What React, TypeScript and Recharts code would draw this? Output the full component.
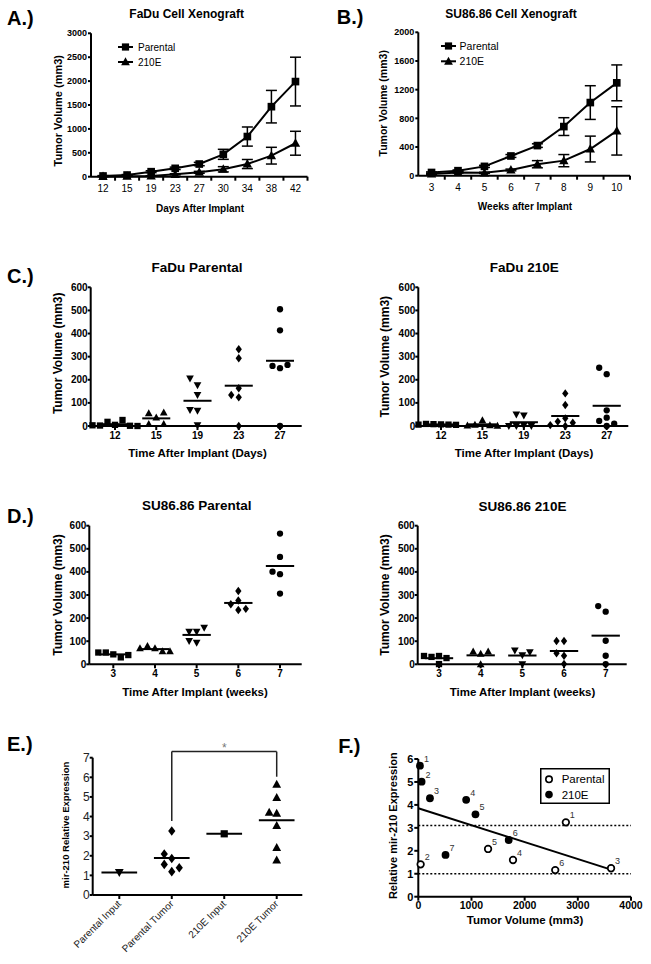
import React from 'react';
import {
  LineChart, Line, XAxis, YAxis, ErrorBar, Legend,
  ScatterChart, Scatter, ReferenceLine,
} from 'recharts';

const FONT = '"Liberation Sans", Arial, Helvetica, sans-serif';

// ================= DATA =================
// A: FaDu cell xenograft (mean ± SEM)
const faduDays = ['12', '15', '19', '23', '27', '30', '34', '38', '42'];
const faduParentalMean = [15, 35, 105, 175, 265, 468, 840, 1465, 1990];
const faduParentalSem = [8, 10, 20, 25, 35, 105, 200, 340, 510];
const fadu210EMean = [5, 10, 15, 50, 92, 155, 265, 440, 700];
const fadu210ESem = [3, 4, 6, 12, 20, 55, 95, 175, 250];

// B: SU86.86 cell xenograft (mean ± SEM)
const suWeeks = ['3', '4', '5', '6', '7', '8', '9', '10'];
const suParentalMean = [45, 70, 130, 275, 420, 685, 1020, 1295];
const suParentalSem = [8, 10, 15, 20, 25, 124, 235, 250];
const su210EMean = [24, 45, 40, 80, 160, 210, 372, 625];
const su210ESem = [5, 8, 8, 12, 50, 85, 180, 337];

// C: FaDu individual tumours
const faduScatterDays = ['12', '15', '19', '23', '27'];
const faduParentalTumors = [
  [5, 18, 26, 2, 1, 3, 0],
  [36, 55, 58, 8, 8],
  [177, 206, 134, 66, 69, 3],
  [332, 293, 163, 124, 134, 0],
  [505, 414, 250, 260, 264, 0],
];
const fadu210ETumors = [
  [7, 8, 6, 9, 5, 6],
  [25, 5, 3, 2, 1],
  [46, 50, 2, 0, 0, 0],
  [141, 91, 0, 19, 33, 14, 4],
  [224, 252, 68, 0, 36, 22, 10],
];

// D: SU86.86 individual tumours
const suScatterWeeks = ['3', '4', '5', '6', '7'];
const suParentalTumors = [
  [43, 51, 30, 51, 40],
  [69, 79, 56, 69, 56],
  [141, 141, 159, 94, 101],
  [317, 276, 260, 235, 240],
  [566, 465, 390, 401, 306],
];
const su210ETumors = [
  [36, 32, 27, 36, 1],
  [45, 55, 55, 0],
  [39, 60, 52, 1],
  [101, 101, 37, 48, 1],
  [228, 252, 102, 37, 1],
];

// E: mir-210 relative expression
const exprGroups = ['Parental Input', 'Parental Tumor', '210E Input', '210E Tumor'];
const exprValues = [
  [1.15],
  [3.26, 1.86, 2.09, 1.19, 1.56, 1.39],
  [3.12],
  [5.64, 4.96, 4.16, 4.21, 3.53, 2.41, 1.78],
];
const sigFrom = 1;
const sigTo = 3;
const sigTop = 7.31;
const sigLeftEnd = 3.77;
const sigRightEnd = 6.03;

// F: expression vs tumour volume
const parentalVolume = [2775, 44, 3625, 1781, 1312, 2575];
const parentalExpr = [3.24, 1.41, 1.24, 1.6, 2.08, 1.16];
const parentalIds = ['1', '2', '3', '4', '5', '6'];
const e210Volume = [31, 62, 219, 900, 1075, 1700, 512];
const e210Expr = [5.71, 5.01, 4.29, 4.22, 3.59, 2.47, 1.82];
const e210Ids = ['1', '2', '3', '4', '5', '6', '7'];
const inputLevels = [3.1, 1.0];

// ================= LAYOUT / STYLE =================
type Frame = {
  x: number; y: number; w: number; h: number;
  L: number; T: number; R: number; B: number; xh: number;
  first?: number; last?: number;
};

const FR_A: Frame = { x: 0, y: 0, w: 320, h: 200, L: 91, T: 33.3, R: 307.5, B: 176.7, xh: 20 };
const FR_B: Frame = { x: 320, y: 0, w: 331, h: 200, L: 418.3, T: 32.3, R: 630, B: 175.7, xh: 20 };
const FR_C1: Frame = { x: 0, y: 240, w: 320, h: 215, L: 90.7, T: 287.3, R: 301.7, B: 426, xh: 20, first: 115, last: 280 };
const FR_C2: Frame = { x: 330, y: 240, w: 321, h: 215, L: 418.3, T: 287.3, R: 628.3, B: 426, xh: 20, first: 441, last: 606.7 };
const FR_D1: Frame = { x: 0, y: 480, w: 320, h: 205, L: 89.3, T: 525.7, R: 301.7, B: 664.3, xh: 20, first: 113.3, last: 280 };
const FR_D2: Frame = { x: 330, y: 480, w: 321, h: 205, L: 417.7, T: 525.7, R: 626.7, B: 664.3, xh: 20, first: 439, last: 605.7 };
const FR_E: Frame = { x: 0, y: 730, w: 320, h: 234, L: 92.7, T: 757.7, R: 302.3, B: 895, xh: 65, first: 119.3, last: 276.7 };
const FR_F: Frame = { x: 330, y: 730, w: 321, h: 234, L: 418.3, T: 759, R: 631, B: 896.7, xh: 20 };

const dotShapes = ['square', 'triangle', 'invTriangle', 'diamond', 'circle'];
const exprShapes = ['invTriangle', 'diamond', 'square', 'triangle'];
const SWARM_STEP = 7.5; // px
const SWARM_THR = 7; // px
const MEAN_HALF = 0.34; // category units

const AXIS = { stroke: '#000', strokeWidth: 2 };

function dims(f: Frame) {
  return {
    margin: { top: f.T - f.y, right: f.x + f.w - f.R, bottom: f.y + f.h - f.B - f.xh, left: 0 },
    yWidth: f.L - f.x,
  };
}

function mean(a: number[]) {
  return a.reduce((s, v) => s + v, 0) / a.length;
}

function range(a: number, b: number, step: number) {
  const out: number[] = [];
  for (let v = a; v <= b + 1e-9; v += step) out.push(Math.round(v * 1000) / 1000);
  return out;
}

// simple slot-based beeswarm (like GraphPad's scatter dot plot)
function swarm(vals: number[], pxPerUnit: number) {
  const order = [0, -1, 1, -2, 2, -3, 3, -4, 4];
  const placed: { slot: number; v: number }[] = [];
  return vals.map((v) => {
    let slot = 0;
    for (const s of order) {
      const clash = placed.some((p) => p.slot === s && Math.abs(p.v - v) * pxPerUnit < SWARM_THR);
      if (!clash) { slot = s; break; }
    }
    placed.push({ slot, v });
    return { slot, v };
  });
}

function Marker({ kind, cx, cy, s = 7 }: any) {
  if (cx == null || cy == null) return null;
  switch (kind) {
    case 'square': {
      const q = s * 0.9;
      return <rect x={cx - q / 2} y={cy - q / 2} width={q} height={q} fill="#000" />;
    }
    case 'triangle':
      return (
        <polygon
          points={`${cx},${cy - 0.58 * s} ${cx + 0.55 * s},${cy + 0.42 * s} ${cx - 0.55 * s},${cy + 0.42 * s}`}
          fill="#000"
        />
      );
    case 'invTriangle':
      return (
        <polygon
          points={`${cx},${cy + 0.58 * s} ${cx + 0.55 * s},${cy - 0.42 * s} ${cx - 0.55 * s},${cy - 0.42 * s}`}
          fill="#000"
        />
      );
    case 'diamond':
      return (
        <polygon
          points={`${cx},${cy - 0.6 * s} ${cx + 0.45 * s},${cy} ${cx},${cy + 0.6 * s} ${cx - 0.45 * s},${cy}`}
          fill="#000"
        />
      );
    default:
      return <circle cx={cx} cy={cy} r={s * 0.45} fill="#000" />;
  }
}

// ================= GROWTH CURVES (A, B) =================
const legendKinds: Record<string, string> = { Parental: 'square', '210E': 'triangle' };
const legendOrder = ['Parental', '210E'];

function LineLegend({ payload, fontSize, rowGap, textX }: any) {
  const names = legendOrder.filter((n) => (payload || []).some((p: any) => p.value === n));
  return (
    <svg width={80} height={34} style={{ display: 'block' }}>
      {names.map((name, i) => {
        const y = 8 + i * rowGap;
        return (
          <g key={name}>
            <line x1={1} x2={16} y1={y} y2={y} stroke="#000" strokeWidth={2} />
            <Marker kind={legendKinds[name]} cx={8.5} cy={y} s={8} />
            <text x={textX} y={y} dy="0.35em" fontSize={fontSize} fill="#000" fontFamily={FONT}>
              {name}
            </text>
          </g>
        );
      })}
    </svg>
  );
}

function GrowthChart({ frame, labels, parMean, parSem, eMean, eSem, yMax, yStep, legend }: any) {
  const { margin, yWidth } = dims(frame);
  const n = labels.length;
  const rows = labels.map((l: string, i: number) => ({
    i, day: l, par: parMean[i], parErr: parSem[i], e: eMean[i], eErr: eSem[i],
  }));
  const half = (frame.R - frame.L) / n / 2;
  const axisY = frame.B - frame.y;
  const renderTick = (p: any) => {
    const { x, y, payload } = p;
    return (
      <g>
        <line x1={x + half} x2={x + half} y1={axisY} y2={axisY + 4} stroke="#000" strokeWidth={2} />
        <text x={x} y={y} dy="0.71em" textAnchor="middle" fontSize={10} fill="#000" fontFamily={FONT}>
          {labels[payload.value]}
        </text>
      </g>
    );
  };
  return (
    <div style={{ position: 'absolute', left: frame.x, top: frame.y }}>
      <LineChart width={frame.w} height={frame.h} margin={margin} data={rows}>
        <XAxis
          type="number"
          dataKey="i"
          domain={[-0.5, n - 0.5]}
          ticks={rows.map((r: any) => r.i)}
          interval={0}
          height={frame.xh}
          axisLine={AXIS}
          tickLine={false}
          tickSize={4}
          tickMargin={4}
          tick={renderTick}
        />
        <YAxis
          type="number"
          domain={[0, yMax]}
          ticks={range(0, yMax, yStep)}
          interval={0}
          width={yWidth}
          axisLine={AXIS}
          tickLine={AXIS}
          tickSize={3}
          tickMargin={1}
          tick={{ fontSize: 9, fontWeight: 'bold', fill: '#000', fontFamily: FONT }}
        />
        <Line
          dataKey="par"
          name="Parental"
          type="linear"
          stroke="#000"
          strokeWidth={2}
          isAnimationActive={false}
          activeDot={false}
          dot={(p: any) => <Marker key={`p${p.index}`} kind="square" cx={p.cx} cy={p.cy} s={8.5} />}
        >
          <ErrorBar dataKey="parErr" width={5.5} strokeWidth={1.5} stroke="#000" direction="y" />
        </Line>
        <Line
          dataKey="e"
          name="210E"
          type="linear"
          stroke="#000"
          strokeWidth={2}
          isAnimationActive={false}
          activeDot={false}
          dot={(p: any) => <Marker key={`e${p.index}`} kind="triangle" cx={p.cx} cy={p.cy} s={8.5} />}
        >
          <ErrorBar dataKey="eErr" width={5.5} strokeWidth={1.5} stroke="#000" direction="y" />
        </Line>
        <Legend
          layout="vertical"
          align="center"
          verticalAlign="middle"
          wrapperStyle={{ left: legend.left, top: legend.top, width: 80, height: 34 }}
          content={(props: any) => (
            <LineLegend payload={props.payload} fontSize={legend.fontSize} rowGap={legend.rowGap} textX={legend.textX} />
          )}
        />
      </LineChart>
    </div>
  );
}

// ================= DOT PLOTS (C, D) =================
function DotPlot({ frame, cats, groups, yMax }: any) {
  const { margin, yWidth } = dims(frame);
  const n = cats.length;
  const sp = (frame.last - frame.first) / (n - 1);
  const dom = [-(frame.first - frame.L) / sp, n - 1 + (frame.R - frame.last) / sp];
  const pxPerUnit = (frame.B - frame.T) / yMax;
  const series = groups.map((vals: number[], i: number) =>
    swarm(vals, pxPerUnit).map((p) => ({ x: i + (p.slot * SWARM_STEP) / sp, y: p.v }))
  );
  return (
    <div style={{ position: 'absolute', left: frame.x, top: frame.y }}>
      <ScatterChart width={frame.w} height={frame.h} margin={margin}>
        <XAxis
          type="number"
          dataKey="x"
          domain={dom}
          ticks={cats.map((_: string, i: number) => i)}
          interval={0}
          tickFormatter={(v: number) => cats[Math.round(v)]}
          height={frame.xh}
          axisLine={AXIS}
          tickLine={AXIS}
          tickSize={4}
          tickMargin={2}
          tick={{ fontSize: 10, fontWeight: 'bold', fill: '#000', fontFamily: FONT }}
        />
        <YAxis
          type="number"
          dataKey="y"
          domain={[0, yMax]}
          ticks={range(0, yMax, 100)}
          interval={0}
          width={yWidth}
          axisLine={AXIS}
          tickLine={AXIS}
          tickSize={3}
          tickMargin={0}
          tick={{ fontSize: 10, fontWeight: 'bold', fill: '#000', fontFamily: FONT }}
        />
        {groups.map((vals: number[], i: number) => (
          <ReferenceLine
            key={`m${i}`}
            segment={[{ x: i - MEAN_HALF, y: mean(vals) }, { x: i + MEAN_HALF, y: mean(vals) }]}
            stroke="#000"
            strokeWidth={2}
          />
        ))}
        {series.map((d: any[], i: number) => (
          <Scatter
            key={`s${i}`}
            data={d}
            isAnimationActive={false}
            shape={(p: any) => <Marker kind={dotShapes[i]} cx={p.cx} cy={p.cy} s={7} />}
          />
        ))}
      </ScatterChart>
    </div>
  );
}

// ================= E =================
function ExprPanel() {
  const f = FR_E;
  const { margin, yWidth } = dims(f);
  const n = exprGroups.length;
  const sp = (f.last! - f.first!) / (n - 1);
  const dom = [-(f.first! - f.L) / sp, n - 1 + (f.R - f.last!) / sp];
  const pxPerUnit = (f.B - f.T) / 7;
  const series = exprValues.map((vals, i) =>
    swarm(vals, pxPerUnit).map((p) => ({ x: i + (p.slot * SWARM_STEP) / sp, y: p.v }))
  );
  const renderTick = (p: any) => {
    const { x, y, payload } = p;
    return (
      <text
        x={x}
        y={y}
        dy="0.35em"
        transform={`rotate(-45 ${x} ${y})`}
        textAnchor="end"
        fontSize={10}
        fill="#222"
        fontFamily={FONT}
      >
        {exprGroups[Math.round(payload.value)]}
      </text>
    );
  };
  const bracket = { stroke: '#222', strokeWidth: 1.5, ifOverflow: 'visible' as const };
  return (
    <div style={{ position: 'absolute', left: f.x, top: f.y }}>
      <ScatterChart width={f.w} height={f.h} margin={margin}>
        <XAxis
          type="number"
          dataKey="x"
          domain={dom}
          ticks={exprGroups.map((_, i) => i)}
          interval={0}
          height={f.xh}
          axisLine={AXIS}
          tickLine={AXIS}
          tickSize={4}
          tickMargin={3}
          tick={renderTick}
        />
        <YAxis
          type="number"
          dataKey="y"
          domain={[0, 7]}
          ticks={range(0, 7, 1)}
          interval={0}
          width={yWidth}
          axisLine={AXIS}
          tickLine={AXIS}
          tickSize={3}
          tickMargin={0}
          tick={{ fontSize: 12, fill: '#222', fontFamily: FONT }}
        />
        {exprValues.map((vals, i) => (
          <ReferenceLine
            key={`m${i}`}
            segment={[{ x: i - MEAN_HALF, y: mean(vals) }, { x: i + MEAN_HALF, y: mean(vals) }]}
            stroke="#000"
            strokeWidth={2}
          />
        ))}
        <ReferenceLine segment={[{ x: sigFrom, y: sigLeftEnd }, { x: sigFrom, y: sigTop }]} {...bracket} />
        <ReferenceLine
          segment={[{ x: sigFrom, y: sigTop }, { x: sigTo, y: sigTop }]}
          {...bracket}
          label={{ value: '*', position: 'top', fill: '#777', fontSize: 12, offset: 0, fontFamily: FONT }}
        />
        <ReferenceLine segment={[{ x: sigTo, y: sigTop }, { x: sigTo, y: sigRightEnd }]} {...bracket} />
        {series.map((d, i) => (
          <Scatter
            key={`s${i}`}
            data={d}
            isAnimationActive={false}
            shape={(p: any) => <Marker kind={exprShapes[i]} cx={p.cx} cy={p.cy} s={8} />}
          />
        ))}
      </ScatterChart>
    </div>
  );
}

// ================= F =================
function FLegend() {
  return (
    <svg width={70} height={36} style={{ display: 'block' }}>
      <rect x={0.75} y={0.75} width={68.5} height={34.5} fill="#fff" stroke="#000" strokeWidth={1.5} />
      <circle cx={9} cy={11.3} r={3.2} fill="#fff" stroke="#000" strokeWidth={1.6} />
      <text x={21.7} y={11.3} dy="0.35em" fontSize={11.5} fill="#000" fontFamily={FONT}>Parental</text>
      <circle cx={9} cy={26.6} r={3.8} fill="#000" />
      <text x={21.7} y={26.6} dy="0.35em" fontSize={11.5} fill="#000" fontFamily={FONT}>210E</text>
    </svg>
  );
}

function FPanel() {
  const f = FR_F;
  const { margin, yWidth } = dims(f);
  const parData = parentalVolume.map((x, i) => ({ x, y: parentalExpr[i], id: parentalIds[i] }));
  const eData = e210Volume.map((x, i) => ({ x, y: e210Expr[i], id: e210Ids[i] }));
  const allX = [...parentalVolume, ...e210Volume];
  const allY = [...parentalExpr, ...e210Expr];
  const mx = mean(allX);
  const my = mean(allY);
  let sxy = 0;
  let sxx = 0;
  allX.forEach((x, i) => {
    sxy += (x - mx) * (allY[i] - my);
    sxx += (x - mx) * (x - mx);
  });
  const slope = sxy / sxx;
  const icpt = my - slope * mx;
  const xMax = Math.max(...allX);
  const label = (p: any) => (
    <text x={p.cx + 4} y={p.cy - 4} fontSize={9} fill="#333" fontFamily={FONT}>{p.payload.id}</text>
  );
  return (
    <div style={{ position: 'absolute', left: f.x, top: f.y }}>
      <ScatterChart width={f.w} height={f.h} margin={margin}>
        <XAxis
          type="number"
          dataKey="x"
          domain={[0, 4000]}
          ticks={range(0, 4000, 1000)}
          interval={0}
          height={f.xh}
          axisLine={AXIS}
          tickLine={AXIS}
          tickSize={4}
          tickMargin={1}
          tick={{ fontSize: 10.5, fontWeight: 'bold', fill: '#000', fontFamily: FONT }}
        />
        <YAxis
          type="number"
          dataKey="y"
          domain={[0, 6]}
          ticks={range(0, 6, 1)}
          interval={0}
          width={yWidth}
          axisLine={AXIS}
          tickLine={AXIS}
          tickSize={4}
          tickMargin={1}
          tick={{ fontSize: 11, fontWeight: 'bold', fill: '#000', fontFamily: FONT }}
        />
        {inputLevels.map((v) => (
          <ReferenceLine key={`lvl${v}`} y={v} stroke="#000" strokeWidth={1.5} strokeDasharray="2 2" />
        ))}
        <ReferenceLine
          segment={[{ x: 0, y: icpt }, { x: xMax, y: icpt + slope * xMax }]}
          stroke="#000"
          strokeWidth={2}
        />
        <Scatter
          name="Parental"
          data={parData}
          isAnimationActive={false}
          shape={(p: any) => (
            <g>
              <circle cx={p.cx} cy={p.cy} r={3.3} fill="#fff" stroke="#000" strokeWidth={1.7} />
              {label(p)}
            </g>
          )}
        />
        <Scatter
          name="210E"
          data={eData}
          isAnimationActive={false}
          shape={(p: any) => (
            <g>
              <circle cx={p.cx} cy={p.cy} r={3.9} fill="#000" />
              {label(p)}
            </g>
          )}
        />
        <Legend
          layout="vertical"
          align="center"
          verticalAlign="middle"
          wrapperStyle={{ left: 210, top: 37.7, width: 70, height: 36 }}
          content={() => <FLegend />}
        />
      </ScatterChart>
    </div>
  );
}

// ================= OVERLAY TEXT =================
type OT = { t: string; x: number; y: number; size: number; bold?: boolean; rot?: boolean; anchor?: string };
const overlayTexts: OT[] = [
  { t: 'A.)', x: 7, y: 25, size: 20, bold: true, anchor: 'start' },
  { t: 'B.)', x: 336.7, y: 24, size: 20, bold: true, anchor: 'start' },
  { t: 'C.)', x: 7, y: 283.3, size: 20, bold: true, anchor: 'start' },
  { t: 'D.)', x: 7, y: 522.7, size: 20, bold: true, anchor: 'start' },
  { t: 'E.)', x: 7, y: 751, size: 20, bold: true, anchor: 'start' },
  { t: 'F.)', x: 338.3, y: 752.7, size: 20, bold: true, anchor: 'start' },

  { t: 'FaDu Cell Xenograft', x: 186.7, y: 18.3, size: 12, bold: true },
  { t: 'SU86.86 Cell Xenograft', x: 511, y: 18.3, size: 12, bold: true },
  { t: 'FaDu Parental', x: 197, y: 271.7, size: 13.5, bold: true },
  { t: 'FaDu 210E', x: 524.3, y: 271.7, size: 13.5, bold: true },
  { t: 'SU86.86 Parental', x: 196.7, y: 510, size: 13.5, bold: true },
  { t: 'SU86.86 210E', x: 522.5, y: 510.5, size: 13.5, bold: true },

  { t: 'Tumor Volume (mm3)', x: 58.3, y: 110.7, size: 11, bold: true, rot: true },
  { t: 'Days After Implant', x: 200, y: 211.7, size: 10, bold: true },
  { t: 'Tumor Volume (mm3)', x: 383.3, y: 103.3, size: 10.5, bold: true, rot: true },
  { t: 'Weeks after Implant', x: 525, y: 210, size: 10, bold: true },

  { t: 'Tumor Volume (mm3)', x: 58.3, y: 353.3, size: 12, bold: true, rot: true },
  { t: 'Time After Implant (Days)', x: 197.5, y: 456.5, size: 11.5, bold: true },
  { t: 'Tumor Volume (mm3)', x: 385, y: 356.7, size: 12, bold: true, rot: true },
  { t: 'Time After Implant (Days)', x: 524, y: 456.5, size: 11.5, bold: true },

  { t: 'Tumor Volume (mm3)', x: 58.3, y: 595, size: 12, bold: true, rot: true },
  { t: 'Time After Implant (weeks)', x: 195, y: 696, size: 11.5, bold: true },
  { t: 'Tumor Volume (mm3)', x: 385, y: 595, size: 12, bold: true, rot: true },
  { t: 'Time After Implant (weeks)', x: 522.5, y: 696, size: 11.5, bold: true },

  { t: 'mir-210 Relative Expression', x: 65, y: 825, size: 9.5, bold: true, rot: true },
  { t: 'Relative mir-210 Expression', x: 393.3, y: 825.7, size: 11, bold: true, rot: true },
  { t: 'Tumor Volume (mm3)', x: 525, y: 924, size: 11.5, bold: true },
];

function Overlay() {
  return (
    <svg width={651} height={964} style={{ position: 'absolute', left: 0, top: 0, pointerEvents: 'none' }}>
      {overlayTexts.map((o, k) =>
        o.rot ? (
          <text
            key={k}
            x={o.x}
            y={o.y}
            transform={`rotate(-90 ${o.x} ${o.y})`}
            textAnchor="middle"
            dominantBaseline="central"
            fontSize={o.size}
            fontWeight={o.bold ? 'bold' : 'normal'}
            fill="#000"
            fontFamily={FONT}
          >
            {o.t}
          </text>
        ) : (
          <text
            key={k}
            x={o.x}
            y={o.y}
            textAnchor={o.anchor || 'middle'}
            fontSize={o.size}
            fontWeight={o.bold ? 'bold' : 'normal'}
            fill="#000"
            fontFamily={FONT}
          >
            {o.t}
          </text>
        )
      )}
    </svg>
  );
}

export default function App() {
  return (
    <div
      style={{
        position: 'absolute', left: 0, top: 0, width: 651, height: 964,
        background: '#fff', fontFamily: FONT, overflow: 'hidden',
      }}
    >
      <GrowthChart
        frame={FR_A}
        labels={faduDays}
        parMean={faduParentalMean}
        parSem={faduParentalSem}
        eMean={fadu210EMean}
        eSem={fadu210ESem}
        yMax={3000}
        yStep={500}
        legend={{ left: 117.3, top: 38.7, fontSize: 10, rowGap: 15, textX: 21 }}
      />
      <GrowthChart
        frame={FR_B}
        labels={suWeeks}
        parMean={suParentalMean}
        parSem={suParentalSem}
        eMean={su210EMean}
        eSem={su210ESem}
        yMax={2000}
        yStep={400}
        legend={{ left: 119.7, top: 37.7, fontSize: 10.5, rowGap: 15.3, textX: 19.6 }}
      />
      <DotPlot frame={FR_C1} cats={faduScatterDays} groups={faduParentalTumors} yMax={600} />
      <DotPlot frame={FR_C2} cats={faduScatterDays} groups={fadu210ETumors} yMax={600} />
      <DotPlot frame={FR_D1} cats={suScatterWeeks} groups={suParentalTumors} yMax={600} />
      <DotPlot frame={FR_D2} cats={suScatterWeeks} groups={su210ETumors} yMax={600} />
      <ExprPanel />
      <FPanel />
      <Overlay />
    </div>
  );
}
